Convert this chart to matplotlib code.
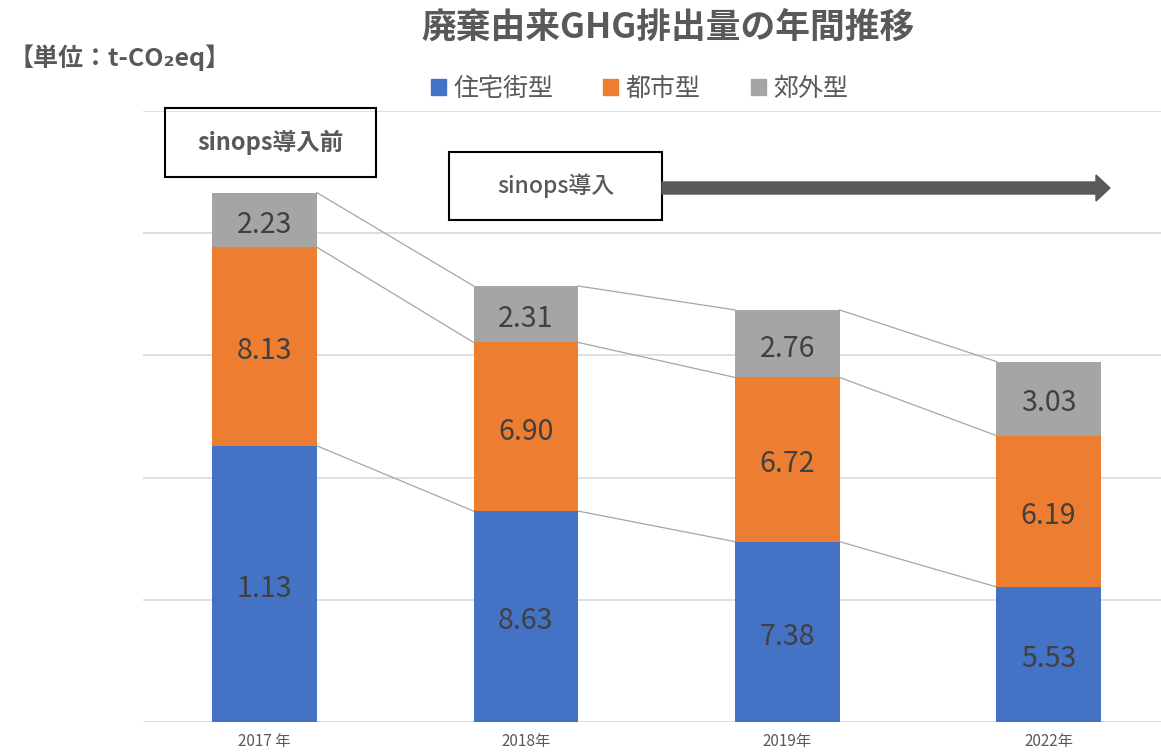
import matplotlib
matplotlib.use('Agg')
import matplotlib.pyplot as plt
import matplotlib.patches as mpatches

plt.rcParams['font.family'] = ['Noto Sans CJK JP', 'DejaVu Sans']

# データ
years = ['2017 年', '2018年', '2019年', '2022年']
series = ['住宅街型', '都市型', '郊外型']
jutaku = [11.3, 8.63, 7.38, 5.53]
toshi = [8.13, 6.90, 6.72, 6.19]
kogai = [2.23, 2.31, 2.76, 3.03]
# 表示ラベル (元の図のまま)
jutaku_lbl = ['1.13', '8.63', '7.38', '5.53']
toshi_lbl = ['8.13', '6.90', '6.72', '6.19']
kogai_lbl = ['2.23', '2.31', '2.76', '3.03']

colors = ['#4472C4', '#ED7D31', '#A5A5A5']
txt = '#595959'

fig = plt.figure(figsize=(11.61, 7.53), dpi=100)
ax = fig.add_axes([143 / 1161, 31 / 753, 1018 / 1161, 611 / 753])

x = list(range(len(years)))
w = 0.40
vals = [jutaku, toshi, kogai]
lbls = [jutaku_lbl, toshi_lbl, kogai_lbl]
bottom = [0] * len(years)
tops = []
for v, lb, c in zip(vals, lbls, colors):
    ax.bar(x, v, w, bottom=bottom, color=c, zorder=3)
    for i in x:
        ax.annotate(lb[i], (i, bottom[i] + v[i] / 2), xytext=(0, -3.5),
                    textcoords='offset points', ha='center', va='center',
                    fontsize=20.5, color='#404040', zorder=4)
    bottom = [b + vv for b, vv in zip(bottom, v)]
    tops.append(bottom[:])

# 系列線
for t in tops:
    for i in range(len(years) - 1):
        ax.plot([i + w / 2, i + 1 - w / 2], [t[i], t[i + 1]],
                color='#A6A6A6', lw=0.9, zorder=2)

ax.set_xlim(-0.465, 3.43)
ax.set_ylim(0, 25)
ax.set_yticks([0, 5, 10, 15, 20, 25])
ax.set_yticklabels([])
ax.grid(axis='y', color='#D9D9D9', lw=1.2, zorder=1)
ax.tick_params(axis='both', length=0)
ax.set_xticks(x)
ax.set_xticklabels(years, fontsize=11, color=txt)
ax.tick_params(axis='x', pad=8)
for s in ax.spines.values():
    s.set_visible(False)

# タイトル・単位
fig.text(0.575, 0.963, '廃棄由来GHG排出量の年間推移', ha='center', va='center',
         fontsize=25, fontweight='bold', color=txt)
fig.text(0.007, 0.923, '【単位：t-CO₂eq】', ha='left', va='center',
         fontsize=18, fontweight='bold', color=txt)

# 凡例
handles = [mpatches.Patch(color=c, label=s) for c, s in zip(colors, series)]
fig.legend(handles=handles, loc='center', bbox_to_anchor=(0.551, 0.882), ncol=3,
           frameon=False, fontsize=18, labelcolor=txt, handlelength=0.6,
           handleheight=0.6, handletextpad=0.3, columnspacing=2.0)

# 注記ボックス
def box(x0, y0, x1, y1, label, weight, size):
    fig.patches.append(mpatches.Rectangle((x0 / 1161, 1 - y1 / 753),
                                          (x1 - x0) / 1161, (y1 - y0) / 753,
                                          transform=fig.transFigure, fill=False,
                                          edgecolor='black', lw=1.5))
    fig.text((x0 + x1) / 2 / 1161, 1 - (y0 + y1) / 2 / 753, label, ha='center',
             va='center', fontsize=size, fontweight=weight, color=txt)

box(165, 108, 376, 177, 'sinops導入前', 'bold', 17)
box(449, 152, 662, 220, 'sinops導入', 'medium', 16.5)

# 矢印
arr = mpatches.FancyArrow(6.62, (753 - 188) / 100, 4.48, 0, width=0.12,
                          head_width=0.26, head_length=0.14,
                          length_includes_head=True, color='#595959',
                          transform=fig.dpi_scale_trans)
fig.patches.append(arr)

plt.savefig('out.png', dpi=100)
